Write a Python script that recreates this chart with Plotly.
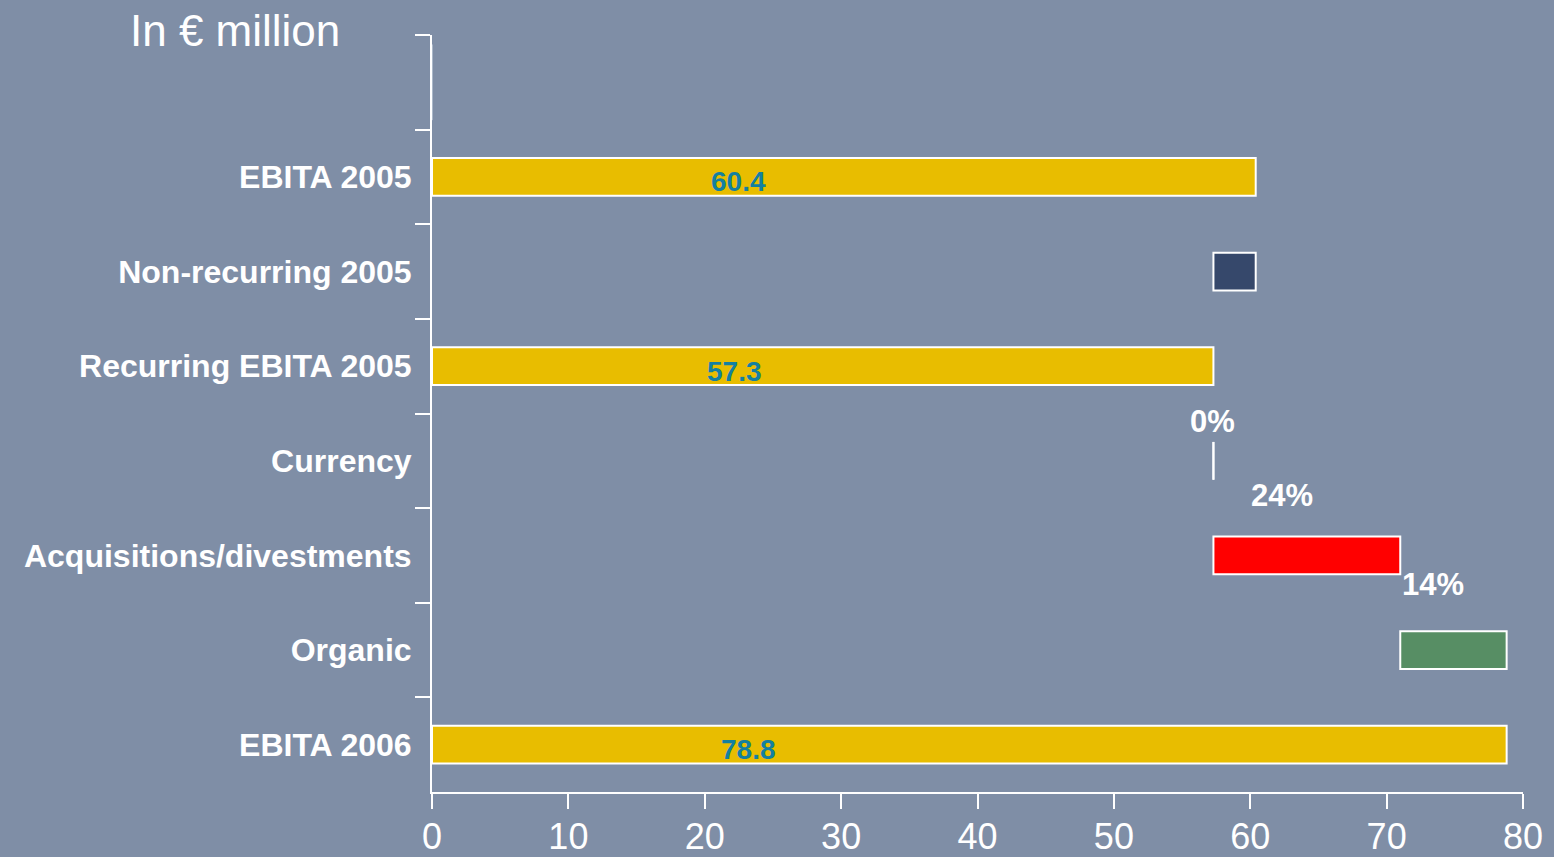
import plotly.graph_objects as go

# ---- data ----
categories = ["EBITA 2005", "Non-recurring 2005", "Recurring EBITA 2005", "Currency",
              "Acquisitions/divestments", "Organic", "EBITA 2006"]
values = [60.4, -3.1, 57.3, 0.0, 13.7, 7.8, 78.8]
kinds = ["total", "delta", "total", "delta", "delta", "delta", "total"]
colors = ["#e8bd00", "#36486b", "#e8bd00", "#ffffff", "#ff0000", "#578e64", "#e8bd00"]

value_labels = ["60.4", "", "57.3", "", "", "", "78.8"]
value_label_x = [22.5, None, 22.2, None, None, None, 23.2]

pct_labels = ["", "", "", "0%", "24%", "14%", ""]
pct_label_x = [None, None, None, 57.2, 62.3, 73.4, None]
pct_label_dy = [None, None, None, 0.42, 0.63, 0.69, None]

x_ticks = [0, 10, 20, 30, 40, 50, 60, 70, 80]
placeholder = " "

# ---- compute waterfall bases ----
bases, lengths = [], []
running = 0.0
for v, k in zip(values, kinds):
    if k == "total":
        bases.append(0.0)
        lengths.append(v)
        running = v
    else:
        if v >= 0:
            bases.append(running)
            lengths.append(v)
        else:
            bases.append(running + v)
            lengths.append(-v)
        running = running + v

BG = "#7f8ea6"
WHITE = "#ffffff"
FONT = "Liberation Sans, Arial, sans-serif"
BAR_W = 0.4

cat_order = [placeholder] + categories

fig = go.Figure()
# placeholder (empty top slot)
fig.add_trace(go.Bar(y=[placeholder], x=[0], orientation="h", marker=dict(color="rgba(0,0,0,0)"),
                     hoverinfo="skip", showlegend=False))
fig.add_trace(go.Bar(
    y=categories, x=lengths, base=bases, orientation="h", width=BAR_W,
    marker=dict(color=colors, line=dict(color=WHITE, width=2)),
    showlegend=False,
))

# zero-length bars (e.g. Currency) drawn as a thin line at their base
for i, (ln, b) in enumerate(zip(lengths, bases)):
    if ln == 0:
        idx = cat_order.index(categories[i])
        fig.add_shape(type="line", xref="x", yref="y", x0=b, x1=b,
                      y0=idx - BAR_W / 2, y1=idx + BAR_W / 2,
                      line=dict(color=WHITE, width=2))

plot_w = 1554 - 432 - 31
plot_h = 857 - 35 - 65

annotations = []
for i, (lab, lx) in enumerate(zip(value_labels, value_label_x)):
    if lab:
        annotations.append(dict(x=lx, y=cat_order.index(categories[i]), xref="x", yref="y",
                                text=lab, showarrow=False, yshift=-5,
                                font=dict(family=FONT, size=28, color="#1480a0", weight="bold")))
for i, (lab, lx, dy) in enumerate(zip(pct_labels, pct_label_x, pct_label_dy)):
    if lab:
        annotations.append(dict(x=lx, y=cat_order.index(categories[i]) - dy, xref="x", yref="y",
                                text=lab, showarrow=False,
                                font=dict(family=FONT, size=31, color=WHITE, weight="bold")))
annotations.append(dict(x=(235 - 432) / plot_w, y=1 + (35 - 30) / plot_h, xref="paper", yref="paper",
                        text="In € million", showarrow=False, xanchor="center", yanchor="middle",
                        font=dict(family=FONT, size=44, color=WHITE)))

fig.update_layout(
    width=1554, height=857,
    margin=dict(l=432, r=31, t=35, b=65),
    paper_bgcolor=BG, plot_bgcolor=BG,
    annotations=annotations,
    xaxis=dict(range=[0, 80], tickvals=x_ticks, ticks="outside", ticklen=15, tickwidth=2,
               tickcolor=WHITE, showline=True, linecolor=WHITE, linewidth=2,
               showgrid=False, zeroline=False, automargin=False, ticklabelstandoff=-3,
               tickfont=dict(family=FONT, size=36, color=WHITE)),
    yaxis=dict(type="category", categoryorder="array", categoryarray=cat_order,
               range=[len(cat_order) - 0.5, -0.5], tickson="boundaries",
               ticks="outside", ticklen=15, tickwidth=2, tickcolor=WHITE,
               showline=True, linecolor=WHITE, linewidth=2, showgrid=False, zeroline=False,
               automargin=False, ticklabelstandoff=12,
               tickfont=dict(family=FONT, size=32, color=WHITE, weight="bold")),
)

fig.write_html("out.html")
